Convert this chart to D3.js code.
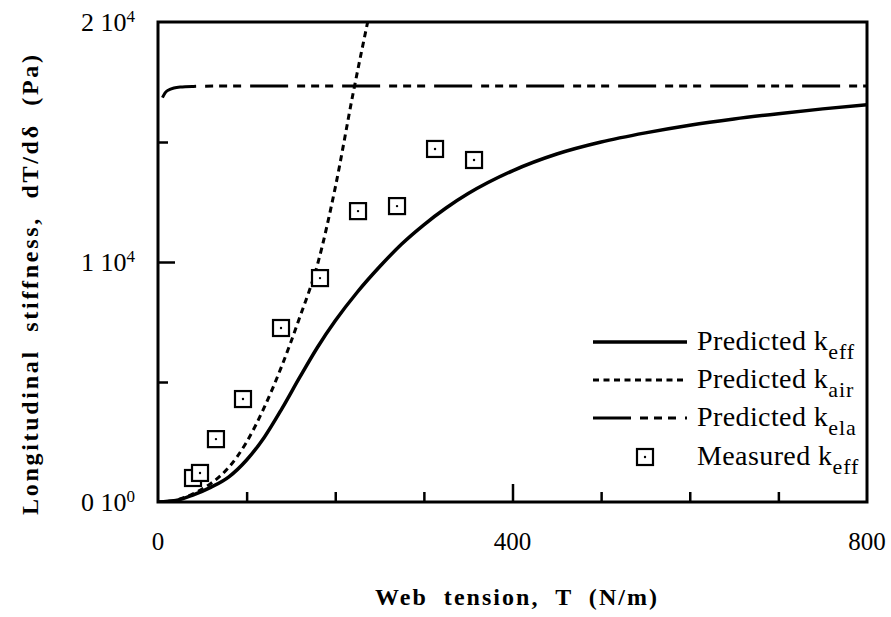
<!DOCTYPE html>
<html>
<head>
<meta charset="utf-8">
<script src="https://cdn.jsdelivr.net/npm/d3@7/dist/d3.min.js"></script>
<style>
  html, body { margin: 0; padding: 0; background: #fff; }
  svg { display: block; }
</style>
</head>
<body>
<svg id="chart" width="891" height="617" font-family="'Liberation Serif', 'DejaVu Serif', serif"></svg>
<script>
// Web tension T (N/m) and longitudinal stiffness dT/dδ (Pa)
const effT = [0, 20, 40, 60, 80, 100, 120, 140, 160, 180, 200, 225, 250, 275, 300, 325, 350, 400, 450, 500, 550, 600, 650, 700, 750, 800];
const effK = [0, 60, 300, 620, 1050, 1750, 2700, 3900, 5200, 6450, 7550, 8750, 9800, 10750, 11550, 12250, 12850, 13800, 14500, 15000, 15380, 15700, 15960, 16180, 16380, 16550];

const airT = [0, 20, 40, 60, 80, 100, 120, 140, 160, 180, 200, 220, 240];
const airK = [0, 80, 350, 780, 1450, 2500, 3950, 5700, 7700, 9900, 13100, 17000, 20600];

const elaT = [5, 8, 12, 18, 25, 40, 70, 120, 200, 400, 600, 800];
const elaK = [16850, 17050, 17170, 17250, 17290, 17315, 17330, 17333, 17333, 17333, 17333, 17333];

const measT = [39.5, 47.4, 65.4, 95.9, 138.8, 182.8, 225.7, 269.7, 312.6, 356.6];
const measK = [1000, 1210, 2620, 4290, 7250, 9330, 12120, 12330, 14710, 14250];

const xTicks = [0, 100, 200, 300, 400, 500, 600, 700, 800];
const xTickLabels = [0, 400, 800];
const yTicks = [0, 5000, 10000, 15000, 20000];
const yTickLabels = [
  { v: 0, m: "0", b: "10", e: "0" },
  { v: 10000, m: "1", b: "10", e: "4" },
  { v: 20000, m: "2", b: "10", e: "4" }
];

const legendItems = [
  { label: "Predicted k", sub: "eff", kind: "eff" },
  { label: "Predicted k", sub: "air", kind: "air" },
  { label: "Predicted k", sub: "ela", kind: "ela" },
  { label: "Measured k", sub: "eff", kind: "meas" }
];

const FONT = "'Liberation Serif', 'DejaVu Serif', serif";
const svg = d3.select("#chart");
const m = { left: 158, right: 24, top: 22, bottom: 115 };
const W = 891, H = 617;
const x = d3.scaleLinear().domain([0, 800]).range([m.left, W - m.right]);
const y = d3.scaleLinear().domain([0, 20000]).range([H - m.bottom, m.top]);

const styles = {
  eff: { width: 3.5, dash: null },
  air: { width: 3, dash: "6,4.5" },
  ela: { width: 3, dash: "38,9,8,6,8,6,8,9" }
};

svg.append("defs").append("clipPath").attr("id", "plot")
  .append("rect")
  .attr("x", x(0)).attr("y", y(20000))
  .attr("width", x(800) - x(0)).attr("height", y(0) - y(20000));

const line = d3.line().x(d => x(d[0])).y(d => y(d[1])).curve(d3.curveMonotoneX);
const curves = svg.append("g").attr("clip-path", "url(#plot)");

function drawCurve(ts, ks, kind) {
  const s = styles[kind];
  curves.append("path")
    .datum(ts.map((t, i) => [t, ks[i]]))
    .attr("d", line)
    .attr("fill", "none")
    .attr("stroke", "#000")
    .attr("stroke-width", s.width)
    .attr("stroke-dasharray", s.dash);
}
drawCurve(elaT, elaK, "ela");
drawCurve(airT, airK, "air");
drawCurve(effT, effK, "eff");

// measured points: open squares with a centre dot
function square(g, cx, cy) {
  g.append("rect")
    .attr("x", cx - 8).attr("y", cy - 8)
    .attr("width", 16).attr("height", 16)
    .attr("fill", "#fff").attr("stroke", "#000").attr("stroke-width", 2.2);
  g.append("circle").attr("cx", cx).attr("cy", cy).attr("r", 1.2).attr("fill", "#000");
}
const pts = svg.append("g");
measT.forEach((t, i) => square(pts, x(t), y(measK[i])));

// frame
svg.append("rect")
  .attr("x", x(0)).attr("y", y(20000))
  .attr("width", x(800) - x(0)).attr("height", y(0) - y(20000))
  .attr("fill", "none").attr("stroke", "#000").attr("stroke-width", 3);

// inward ticks
const bottomAxis = d3.axisBottom(x).tickValues(xTicks.filter(t => t > 0 && t < 800))
  .tickSizeInner(0).tickSizeOuter(0).tickFormat("");
const gx = svg.append("g").attr("transform", `translate(0,${y(0)})`).call(bottomAxis);
gx.select(".domain").remove();
gx.selectAll(".tick line")
  .attr("y2", d => d === 400 ? -18 : -10)
  .attr("stroke", "#000").attr("stroke-width", 2.5);

const leftAxis = d3.axisLeft(y).tickValues(yTicks.filter(v => v > 0 && v < 20000))
  .tickSizeInner(0).tickSizeOuter(0).tickFormat("");
const gy = svg.append("g").attr("transform", `translate(${x(0)},0)`).call(leftAxis);
gy.select(".domain").remove();
gy.selectAll(".tick line")
  .attr("x2", d => d === 10000 ? 17 : 10)
  .attr("stroke", "#000").attr("stroke-width", 2.5);

// tick labels
svg.append("g").selectAll("text").data(xTickLabels).join("text")
  .attr("x", d => x(d)).attr("y", y(0) + 48)
  .attr("text-anchor", "middle").attr("font-size", 25).attr("font-family", FONT)
  .text(d => d);

const yl = svg.append("g").selectAll("text").data(yTickLabels).join("text")
  .attr("x", x(0) - 23).attr("y", d => y(d.v) + 9)
  .attr("text-anchor", "end").attr("font-size", 26).attr("font-family", FONT);
yl.append("tspan").text(d => d.m + " " + d.b);
yl.append("tspan").attr("dy", -9).attr("font-size", 17).text(d => d.e);

// axis titles
svg.append("text")
  .attr("x", 375).attr("y", 605)
  .attr("font-size", 24).attr("font-weight", "bold")
  .attr("font-family", FONT)
  .attr("textLength", 282).attr("lengthAdjust", "spacing")
  .style("white-space", "pre")
  .text("Web  tension,  T  (N/m)");

svg.append("text")
  .attr("transform", "translate(38,515) rotate(-90)")
  .attr("font-size", 24).attr("font-weight", "bold")
  .attr("font-family", FONT)
  .attr("textLength", 460).attr("lengthAdjust", "spacing")
  .style("white-space", "pre")
  .text("Longitudinal  stiffness,  dT/dδ  (Pa)");

// legend
const lg = svg.append("g");
const rowY = [342, 380, 418, 457];
legendItems.forEach((it, i) => {
  const yy = rowY[i];
  if (it.kind === "meas") {
    square(lg, 645, yy);
  } else {
    const s = styles[it.kind];
    lg.append("line")
      .attr("x1", 593).attr("x2", 687).attr("y1", yy).attr("y2", yy)
      .attr("stroke", "#000").attr("stroke-width", s.width)
      .attr("stroke-dasharray", s.dash);
  }
  const t = lg.append("text").attr("x", 697).attr("y", yy + 8)
    .attr("font-size", 28).attr("font-family", FONT).attr("letter-spacing", 0.4);
  t.append("tspan").text(it.label);
  t.append("tspan").attr("dy", 9).attr("font-size", 22).attr("letter-spacing", 1).text(it.sub);
});
</script>
</body>
</html>
